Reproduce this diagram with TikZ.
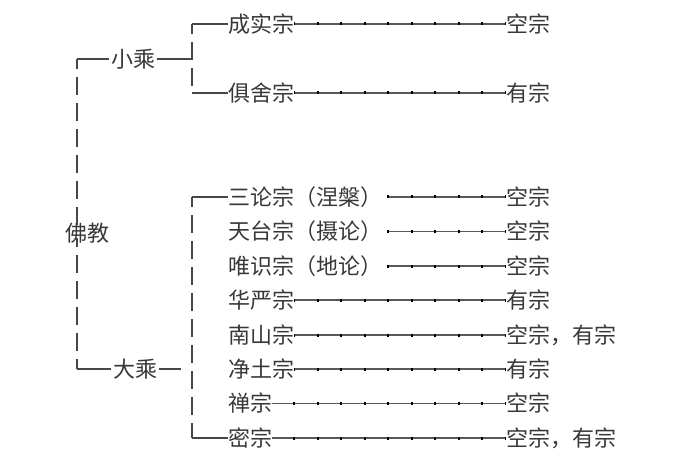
\documentclass[tikz,border=0pt]{standalone}
\usepackage{fontspec}
\newfontfamily\cjk{Noto Sans CJK SC}
\begin{document}
\begin{tikzpicture}[x=1pt,y=-1pt,
  txt/.style={font=\cjk\fontsize{22pt}{22pt}\selectfont, text=black!78, inner sep=0pt, text height=16.7pt, text depth=0pt},
  lft/.style={txt, anchor=west},
  conn/.style={draw=black!72, line width=1.6pt},
  vdash/.style={conn, dash pattern=on 18pt off 8pt, dash phase=8pt},
  dotline/.style={draw=black!65, line width=1.8pt, postaction={draw=black, line width=3pt, dash pattern=on 2pt off 21.5pt, dash phase=0.5pt}}]
\fill[white] (0,0) rectangle (700,470);
\path[use as bounding box] (0,0) rectangle (700,470);
% left column
\node[txt] (fojiao) at (87.5,233) {佛教};
\node[txt, inner xsep=1.5pt] (xiao) at (133,59) {小乘};
\node[txt, inner xsep=1.5pt] (da) at (135,369) {大乘};
\coordinate (ltop) at (77,59);
\coordinate (lbot) at (77,369);
\draw[conn] (ltop) -- (xiao.west);
\draw[conn] (lbot) -- (da.west);
\draw[vdash] (ltop) -- ([yshift=-4pt]ltop |- fojiao.north);
\draw[vdash] (lbot) -- ([yshift=4pt]lbot |- fojiao.south);
% Hinayana
\node[lft] (r1) at (228,24) {成实宗};
\node[lft] (r2) at (228,93) {俱舍宗};
\node[lft] (k1) at (506,24) {空宗};
\node[lft] (k2) at (506,93) {有宗};
\coordinate (bt) at (192,24);
\coordinate (bb) at (192,93);
\coordinate (xb) at (192,59);
\draw[conn] (xiao.east) -- (xb);
\draw[conn] (bt) -- (r1.west);
\draw[conn] (bb) -- (r2.west);
\draw[vdash] (bt) -- (bb);
\draw[dotline] (k1.west) -- (r1.east);
\draw[dotline] (k2.west) -- (r2.east);
% Mahayana
\node[lft] (m1) at (228,197) {三论宗（涅槃）};
\node[lft] (m2) at (228,231.5) {天台宗（摄论）};
\node[lft] (m3) at (228,266) {唯识宗（地论）};
\node[lft] (m4) at (228,300) {华严宗};
\node[lft] (m5) at (228,335) {南山宗};
\node[lft] (m6) at (228,369) {净土宗};
\node[lft] (m7) at (228,403.5) {禅宗};
\node[lft] (m8) at (228,438) {密宗};
\node[lft] (n1) at (506,197) {空宗};
\node[lft] (n2) at (506,231.5) {空宗};
\node[lft] (n3) at (506,266) {空宗};
\node[lft] (n4) at (506,300) {有宗};
\node[lft] (n5) at (506,335) {空宗，有宗};
\node[lft] (n6) at (506,369) {有宗};
\node[lft] (n7) at (506,403.5) {空宗};
\node[lft] (n8) at (506,438) {空宗，有宗};
\coordinate (mt) at (192,197);
\coordinate (mb) at (192,438);
\coordinate (dae) at (181,369);
\draw[conn] (da.east) -- (dae);
\draw[conn] (mt) -- (m1.west);
\draw[conn] (mb) -- (m8.west);
\draw[vdash] (mt) -- (mb);
\foreach \i in {1,2,3}{
  \draw[dotline] (n\i.west) -- ([xshift=5pt]m\i.east);
}
\foreach \i in {4,...,8}{
  \draw[dotline] (n\i.west) -- (m\i.east);
}
\end{tikzpicture}
\end{document}
